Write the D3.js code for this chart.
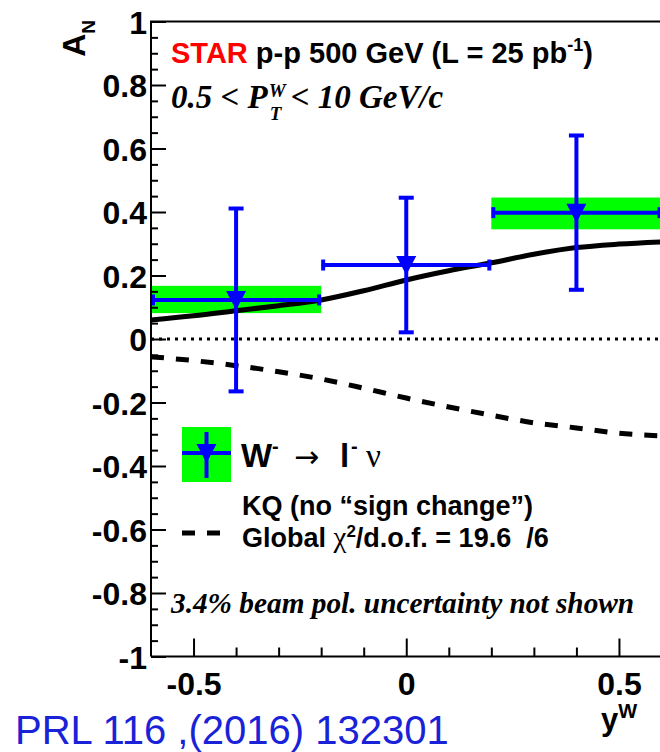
<!DOCTYPE html>
<html>
<head>
<meta charset="utf-8">
<script src="https://cdn.jsdelivr.net/npm/d3@7"></script>
<style>
  body { margin: 0; background: #fff; }
  svg { display: block; }
  text { white-space: pre; }
  .axis path, .axis line { stroke: #000; stroke-width: 2; }
  .axis text { font-family: "Liberation Sans", Arial, sans-serif; font-weight: bold; font-size: 32px; fill: #000; }
</style>
</head>
<body>
<div id="container"></div>
<script>
// bins in rapidity y^W
const binCenter = [-0.4, 0.0, 0.4]
const binLow = [-0.6, -0.2, 0.2]
const binHigh = [-0.2, 0.2, 0.6]
const asymAN = [0.123, 0.233, 0.398]
const statErr = [0.288, 0.212, 0.243]
const sysCenter = [0.1245, 0.233, 0.3955]
const sysErr = [0.043, 0.004, 0.05]

// theory curves
const curveX = [-0.6, -0.5, -0.4, -0.3, -0.2, -0.1, 0.0, 0.1, 0.2, 0.3, 0.4, 0.5, 0.6]
const signChange = [0.06, 0.073, 0.089, 0.105, 0.123, 0.152, 0.186, 0.215, 0.24, 0.267, 0.288, 0.299, 0.306]
const kqNoSignChange = [-0.056, -0.068, -0.084, -0.103, -0.126, -0.155, -0.186, -0.214, -0.24, -0.264, -0.28, -0.297, -0.305]

const xMajorTicks = [-0.5, 0, 0.5]
const yMajorTicks = [-1, -0.8, -0.6, -0.4, -0.2, 0, 0.2, 0.4, 0.6, 0.8, 1]

const width = 660, height = 752
const frame = {left: 151, right: 661.5, top: 21.5, bottom: 656.5}

const svg = d3.select("#container").append("svg")
    .attr("width", width)
    .attr("height", height)

const x = d3.scaleLinear().domain([-0.6, 0.6]).range([frame.left, frame.right])
const y = d3.scaleLinear().domain([-1, 1]).range([frame.bottom, frame.top])

const fmt = d => String(+d.toFixed(2))

// systematic boxes
svg.append("g").selectAll("rect")
    .data(binCenter)
    .join("rect")
    .attr("x", (d, i) => x(binLow[i]))
    .attr("width", (d, i) => x(binHigh[i]) - x(binLow[i]))
    .attr("y", (d, i) => y(sysCenter[i] + sysErr[i]))
    .attr("height", (d, i) => y(sysCenter[i] - sysErr[i]) - y(sysCenter[i] + sysErr[i]))
    .attr("fill", "#00ff00")

// theory lines
const line = d3.line().x((d, i) => x(curveX[i])).y(d => y(d)).curve(d3.curveMonotoneX)

svg.append("path")
    .attr("d", line(signChange))
    .attr("fill", "none")
    .attr("stroke", "#000")
    .attr("stroke-width", 5)

svg.append("path")
    .attr("d", line(kqNoSignChange))
    .attr("fill", "none")
    .attr("stroke", "#000")
    .attr("stroke-width", 5)
    .attr("stroke-dasharray", "13,12")

// zero line
svg.append("line")
    .attr("x1", x(-0.6)).attr("x2", x(0.6))
    .attr("y1", y(0)).attr("y2", y(0))
    .attr("stroke", "#000")
    .attr("stroke-width", 3)
    .attr("stroke-dasharray", "3,5")

// data points
const blue = "#0000ff"
const pts = svg.append("g").attr("stroke", blue).attr("stroke-width", 4)
binCenter.forEach((c, i) => {
    const cx = x(c), cy = y(asymAN[i])
    const yt = y(asymAN[i] + statErr[i]), yb = y(asymAN[i] - statErr[i])
    const xl = x(binLow[i]), xr = x(binHigh[i])
    pts.append("line").attr("x1", cx).attr("x2", cx).attr("y1", yt).attr("y2", yb)
    pts.append("line").attr("x1", cx - 7.5).attr("x2", cx + 7.5).attr("y1", yt).attr("y2", yt)
    pts.append("line").attr("x1", cx - 7.5).attr("x2", cx + 7.5).attr("y1", yb).attr("y2", yb)
    pts.append("line").attr("x1", xl + 2).attr("x2", xr - 2).attr("y1", cy).attr("y2", cy)
    pts.append("line").attr("x1", xl + 2).attr("x2", xl + 2).attr("y1", cy - 5.5).attr("y2", cy + 5.5)
    pts.append("line").attr("x1", xr - 2).attr("x2", xr - 2).attr("y1", cy - 5.5).attr("y2", cy + 5.5)
})

function triangleDown(g, cx, cy) {
    g.append("path")
        .attr("d", `M${cx - 10},${cy - 9}L${cx + 10},${cy - 9}L${cx},${cy + 10}Z`)
        .attr("fill", blue)
}
binCenter.forEach((c, i) => triangleDown(svg, x(c), y(asymAN[i])))

// axes
const yAxisMinor = d3.axisLeft(y)
    .tickValues(d3.range(-1, 1.001, 0.05).filter(v => Math.abs(Math.round(v * 5) - v * 5) > 0.01))
    .tickSize(-7).tickSizeOuter(0).tickFormat("")
const yAxisMajor = d3.axisLeft(y)
    .tickValues(yMajorTicks).tickSize(-15).tickSizeOuter(0).tickFormat(fmt).tickPadding(4)

const gy = svg.append("g").attr("class", "axis").attr("transform", `translate(${frame.left},0)`)
gy.call(yAxisMinor)
gy.append("g").call(yAxisMajor)
gy.selectAll("text").attr("dy", "0.37em")
gy.selectAll(".domain").remove()

const xAxisMinor = d3.axisBottom(x)
    .tickValues(d3.range(-0.5, 0.6, 0.1).filter(v => Math.abs(Math.round(v * 2) - v * 2) > 0.01))
    .tickSize(-9).tickSizeOuter(0).tickFormat("")
const xAxisMajor = d3.axisBottom(x)
    .tickValues(xMajorTicks).tickSize(-18).tickSizeOuter(0).tickFormat(fmt)

const gx = svg.append("g").attr("class", "axis").attr("transform", `translate(0,${frame.bottom})`)
gx.call(xAxisMinor)
gx.append("g").call(xAxisMajor)
gx.selectAll("text").attr("y", 38).attr("dy", 0)
gx.selectAll(".domain").remove()

// frame
svg.append("path")
    .attr("d", `M${frame.left},${frame.bottom}V${frame.top}H${width + 2}M${frame.left},${frame.bottom}H${width + 2}`)
    .attr("fill", "none")
    .attr("stroke", "#000")
    .attr("stroke-width", 2)

// axis titles
const sans = "'Liberation Sans', Arial, sans-serif"
const serif = "'Liberation Serif', 'Times New Roman', serif"

const aN = svg.append("text")
    .attr("transform", "translate(85,20) rotate(-90)")
    .attr("text-anchor", "end")
    .style("font-family", sans).style("font-weight", "bold").style("font-size", "32px")
aN.append("tspan").text("A")
aN.append("tspan").attr("dy", 10).style("font-size", "19px").text("N")

const yW = svg.append("text")
    .attr("x", 601).attr("y", 730)
    .style("font-family", sans).style("font-weight", "bold").style("font-size", "31px")
yW.append("tspan").text("y")
yW.append("tspan").attr("dy", -12).style("font-size", "20px").text("W")

// header texts
const star = svg.append("text")
    .attr("x", 171).attr("y", 63)
    .style("font-family", sans).style("font-weight", "bold").style("font-size", "29px")
star.append("tspan").attr("fill", "#ff0000").text("STAR")
star.append("tspan").text(" p-p 500 GeV (L = 25 pb")
star.append("tspan").attr("dy", -12).style("font-size", "18px").text("-1")
star.append("tspan").attr("dy", 12).text(")")

const ptStyle = t => t.style("font-family", serif).style("font-weight", "bold")
    .style("font-style", "italic")
const pt1 = svg.append("text").attr("x", 171).attr("y", 108).call(ptStyle)
    .style("font-size", "33px").text("0.5 < P")
const ptEnd = 171 + pt1.node().getComputedTextLength() + 1
const supW = svg.append("text").attr("x", ptEnd).attr("y", 97).call(ptStyle)
    .style("font-size", "19px").text("W")
svg.append("text").attr("x", ptEnd + 1).attr("y", 120).call(ptStyle)
    .style("font-size", "19px").text("T")
svg.append("text").attr("x", ptEnd + supW.node().getComputedTextLength() + 5).attr("y", 108).call(ptStyle)
    .style("font-size", "33px").text("< 10 GeV/c")

// legend
svg.append("rect").attr("x", 182).attr("y", 427).attr("width", 49).attr("height", 55).attr("fill", "#00ff00")
svg.append("line").attr("x1", 182).attr("x2", 231).attr("y1", 453).attr("y2", 453)
    .attr("stroke", blue).attr("stroke-width", 4)
svg.append("line").attr("x1", 206.5).attr("x2", 206.5).attr("y1", 432).attr("y2", 478)
    .attr("stroke", blue).attr("stroke-width", 4)
triangleDown(svg, 206.5, 453)

const lw = svg.append("text").attr("y", 467)
    .style("font-family", sans).style("font-size", "33px")
lw.append("tspan").attr("x", 241).style("font-weight", "bold").text("W")
lw.append("tspan").attr("x", 272).attr("dy", -14).style("font-weight", "bold").style("font-size", "20px").text("-")
lw.append("tspan").attr("x", 294).attr("dy", 14).style("font-family", "'DejaVu Sans', sans-serif").style("font-size", "30px").text("\u2192")
lw.append("tspan").attr("x", 340).style("font-weight", "bold").text("l")
lw.append("tspan").attr("x", 351).attr("dy", -14).style("font-weight", "bold").style("font-size", "20px").text("-")
lw.append("tspan").attr("x", 366).attr("dy", 14).style("font-family", serif).text("\u03bd")

svg.append("line").attr("x1", 182).attr("x2", 221).attr("y1", 533).attr("y2", 533)
    .attr("stroke", "#000").attr("stroke-width", 5).attr("stroke-dasharray", "13,12")

svg.append("text").attr("x", 242).attr("y", 515)
    .style("font-family", sans).style("font-weight", "bold").style("font-size", "27px")
    .text("KQ (no \u201csign change\u201d)")

const chi = svg.append("text").attr("x", 242).attr("y", 547)
    .style("font-family", sans).style("font-weight", "bold").style("font-size", "27px")
chi.append("tspan").text("Global ")
chi.append("tspan").style("font-family", serif).style("font-weight", "normal").style("font-size", "29px").text("\u03c7")
chi.append("tspan").attr("dy", -10).style("font-size", "17px").text("2")
chi.append("tspan").attr("dy", 10).text("/d.o.f. = 19.6  /6")

svg.append("text").attr("x", 171).attr("y", 613).call(ptStyle)
    .style("font-size", "29.3px").text("3.4% beam pol. uncertainty not shown")

svg.append("text").attr("x", 15).attr("y", 744)
    .style("font-family", sans).style("font-size", "40px").attr("fill", "#1a22d8")
    .text("PRL 116 ,(2016) 132301")
</script>
</body>
</html>
